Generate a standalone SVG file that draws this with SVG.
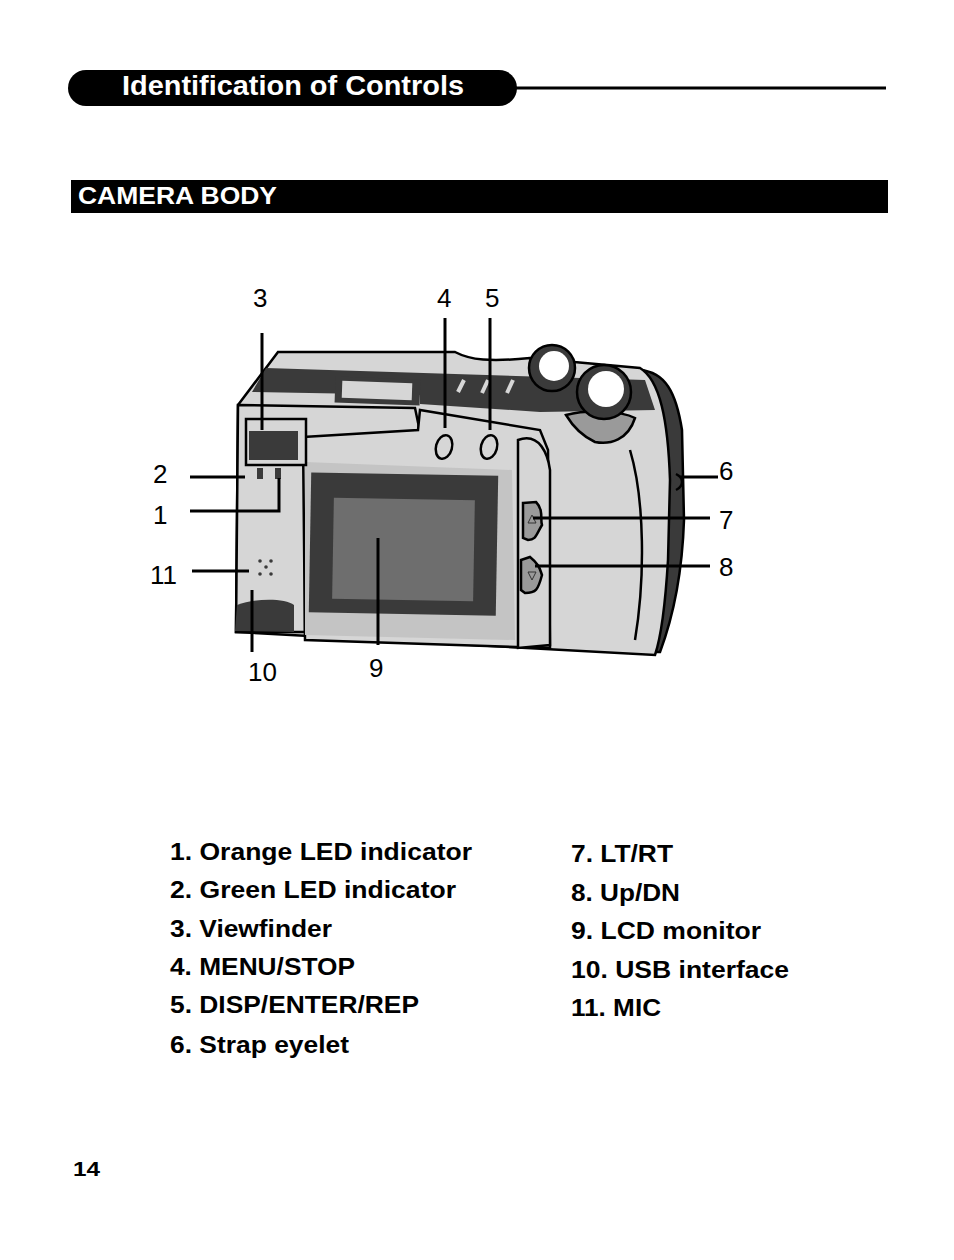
<svg xmlns="http://www.w3.org/2000/svg" width="954" height="1260" viewBox="0 0 954 1260">
<style>
text{font-family:"Liberation Sans",Arial,sans-serif;fill:#000}
.b{font-weight:bold;font-size:24px}
.n{font-size:26px}
.ln{stroke:#000;stroke-width:3;fill:none}
.o{stroke:#000;stroke-width:2.5}
</style>
<rect width="954" height="1260" fill="#fff"/>
<g id="header">
<rect x="68" y="70" width="449" height="36" rx="18" fill="#000"/>
<line x1="515" y1="88" x2="886" y2="88" stroke="#000" stroke-width="3"/>
<text x="122" y="95" font-size="27" font-weight="bold" style="fill:#fff" textLength="342" lengthAdjust="spacingAndGlyphs">Identification of Controls</text>
</g>
<g id="section">
<rect x="71" y="180" width="817" height="33" fill="#000"/>
<text x="78" y="204" font-size="23" font-weight="bold" style="fill:#fff" textLength="199" lengthAdjust="spacingAndGlyphs">CAMERA BODY</text>
</g>
<g id="camera">
<path class="o" fill="#3a3a3a" d="M640,370 C665,372 676,392 682,430 L684,520 C682,580 672,620 660,652 L620,652 L620,380 Z"/>
<path class="o" fill="#d6d6d6" d="M238,405 L278,352 L455,352 C470,360 490,362 530,358 L640,368 C660,380 668,420 670,480 L668,560 C665,610 660,640 655,655 L236,632 Z"/>
<path fill="#3a3a3a" d="M252,392 L266,368 L645,380 L655,410 L540,412 L420,404 L420,395 Z"/>
<rect x="335" y="378" width="85" height="26" fill="#3a3a3a" transform="rotate(2 377 391)"/>
<rect x="342" y="382" width="70" height="17" fill="#d6d6d6" transform="rotate(2 377 391)"/>
<g stroke="#d6d6d6" stroke-width="4"><line x1="458" y1="392" x2="464" y2="380"/><line x1="482" y1="393" x2="488" y2="380"/><line x1="507" y1="393" x2="513" y2="380"/></g>
<path class="o" fill="#d6d6d6" d="M238,405 L415,408 L420,432 L305,440 L305,632 L236,632 Z"/>
<path class="o" fill="#d6d6d6" d="M303,437 L418,430 L420,410 L540,430 L548,450 L550,648 L305,640 Z"/>
<path fill="#c4c4c4" d="M305,462 L512,470 L515,640 L305,635 Z"/>
<path class="o" fill="#d6d6d6" d="M518,440 C540,432 548,455 550,470 L550,645 L518,648 Z"/>
<rect x="310" y="474" width="187" height="140" fill="#3a3a3a" transform="rotate(1 403 544)"/>
<rect x="333" y="499" width="141" height="101" fill="#6e6e6e" transform="rotate(1 403 549)"/>
<rect x="246" y="419" width="60" height="46" fill="#d6d6d6" class="o"/>
<rect x="249" y="431" width="49" height="29" fill="#3a3a3a"/>
<rect x="257" y="468" width="6" height="11" fill="#3a3a3a"/>
<rect x="275" y="468" width="6" height="11" fill="#3a3a3a"/>
<g fill="#3a3a3a"><circle cx="260" cy="561" r="1.8"/><circle cx="271" cy="561" r="1.8"/><circle cx="266" cy="567" r="1.8"/><circle cx="260" cy="574" r="1.8"/><circle cx="271" cy="574" r="1.8"/></g>
<path fill="#3a3a3a" d="M237,605 C255,598 285,598 294,605 L294,632 L235,631 Z"/>
<g fill="#d6d6d6" class="o"><ellipse cx="444" cy="447" rx="8" ry="12" transform="rotate(15 444 447)"/><ellipse cx="489" cy="447" rx="8" ry="12" transform="rotate(15 489 447)"/></g>
<path class="o" fill="#9a9a9a" d="M523,503 L536,502 C544,510 540,520 542,525 C536,535 536,540 528,540 L523,538 Z"/>
<path class="o" fill="#9a9a9a" d="M521,560 L530,557 C540,565 540,570 542,575 C538,590 536,593 525,593 L521,590 Z"/>
<path d="M528,523 L532,515 L536,523 Z M528,572 L536,572 L532,580 Z" fill="none" stroke="#333" stroke-width="1"/>
<path fill="#9a9a9a" class="o" d="M566,415 C585,410 620,410 635,418 C628,440 610,445 595,442 C580,435 572,425 566,415 Z"/>
<circle cx="552" cy="368" r="23" fill="#3a3a3a" class="o"/>
<circle cx="554" cy="366" r="15" fill="#fff"/>
<circle cx="604" cy="392" r="27" fill="#3a3a3a" class="o"/>
<circle cx="606" cy="389" r="18" fill="#fff"/>
<path d="M630,450 C645,500 645,580 635,640" class="o" fill="none"/>
<path d="M676,474 C684,478 684,486 676,490" class="o" fill="none"/>
</g>
<g id="connectors" class="ln">
<line x1="262" y1="333" x2="262" y2="430"/>
<line x1="445" y1="318" x2="445" y2="428"/>
<line x1="490" y1="318" x2="490" y2="430"/>
<line x1="190" y1="477" x2="245" y2="477"/>
<polyline points="190,511 279,511 279,478"/>
<line x1="192" y1="571" x2="249" y2="571"/>
<line x1="252" y1="590" x2="252" y2="652"/>
<line x1="378" y1="538" x2="378" y2="645"/>
<line x1="680" y1="477" x2="718" y2="477"/>
<line x1="533" y1="518" x2="710" y2="518"/>
<line x1="535" y1="566" x2="710" y2="566"/>
</g>
<g id="numbers">
<text x="253" y="307" class="n">3</text>
<text x="437" y="307" class="n">4</text>
<text x="485" y="307" class="n">5</text>
<text x="153" y="483" class="n">2</text>
<text x="153" y="524" class="n">1</text>
<text x="150" y="584" class="n">11</text>
<text x="248" y="681" class="n">10</text>
<text x="369" y="677" class="n">9</text>
<text x="719" y="480" class="n">6</text>
<text x="719" y="529" class="n">7</text>
<text x="719" y="576" class="n">8</text>
</g>
<g id="legend">
<text x="170" y="860" class="b" textLength="302" lengthAdjust="spacingAndGlyphs">1. Orange LED indicator</text>
<text x="170" y="898" class="b" textLength="286" lengthAdjust="spacingAndGlyphs">2. Green LED indicator</text>
<text x="170" y="937" class="b" textLength="162" lengthAdjust="spacingAndGlyphs">3. Viewfinder</text>
<text x="170" y="975" class="b" textLength="185" lengthAdjust="spacingAndGlyphs">4. MENU/STOP</text>
<text x="170" y="1013" class="b" textLength="249" lengthAdjust="spacingAndGlyphs">5. DISP/ENTER/REP</text>
<text x="170" y="1053" class="b" textLength="179" lengthAdjust="spacingAndGlyphs">6. Strap eyelet</text>
<text x="571" y="862" class="b" textLength="102" lengthAdjust="spacingAndGlyphs">7. LT/RT</text>
<text x="571" y="901" class="b" textLength="109" lengthAdjust="spacingAndGlyphs">8. Up/DN</text>
<text x="571" y="939" class="b" textLength="190" lengthAdjust="spacingAndGlyphs">9. LCD monitor</text>
<text x="571" y="978" class="b" textLength="218" lengthAdjust="spacingAndGlyphs">10. USB interface</text>
<text x="571" y="1016" class="b" textLength="90" lengthAdjust="spacingAndGlyphs">11. MIC</text>
</g>
<text x="73" y="1176" font-size="20" font-weight="bold" textLength="27" lengthAdjust="spacingAndGlyphs">14</text>
</svg>
